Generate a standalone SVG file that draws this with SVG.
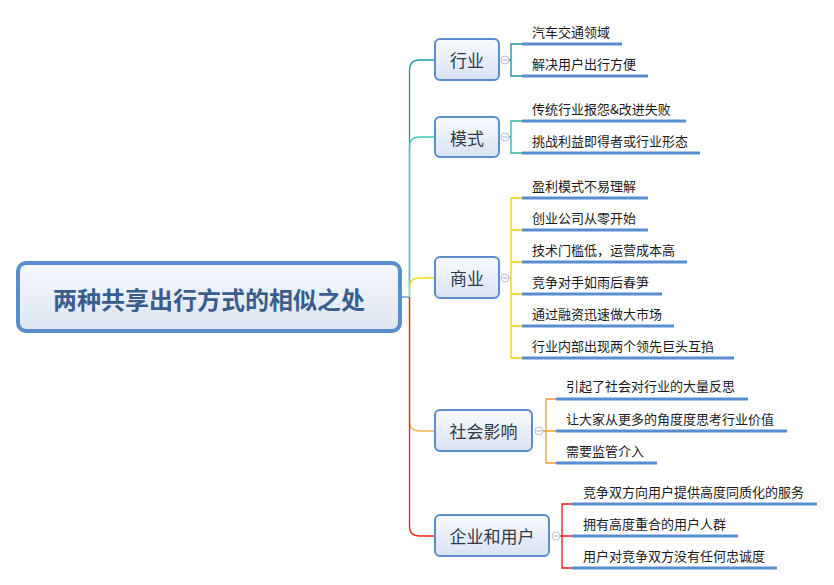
<svg xmlns="http://www.w3.org/2000/svg" width="834" height="585" viewBox="0 0 834 585">
<defs>
<linearGradient id="gRoot" x1="0" y1="0" x2="0" y2="1"><stop offset="0" stop-color="#f6f8fc"/><stop offset="1" stop-color="#dde5f1"/></linearGradient>
<linearGradient id="gBr" x1="0" y1="0" x2="0" y2="1"><stop offset="0" stop-color="#f8fafd"/><stop offset="1" stop-color="#d9e3f2"/></linearGradient>
</defs>
<style>
.root{fill:url(#gRoot);stroke:#5a8dd0;stroke-width:4}
.br{fill:url(#gBr);stroke:#5a8dd0;stroke-width:2}
.rt{font-family:"Noto Sans CJK SC","Liberation Sans",sans-serif;font-size:24px;font-weight:bold;fill:#3a5d8e;text-anchor:middle;dominant-baseline:central}
.bt{font-family:"Noto Sans CJK SC","Liberation Sans",sans-serif;font-size:17px;fill:#2e3a4a;text-anchor:middle;dominant-baseline:central}
.st{font-family:"Noto Sans CJK SC","Liberation Sans",sans-serif;font-size:13px;fill:#1a1a1a;dominant-baseline:central}
.ul{stroke:#5a8dd0;stroke-width:3;fill:none}
.c{fill:none;stroke-width:1.3}
.col{fill:#fff;stroke:#b3c2e2;stroke-width:1}
.minus{stroke:#9fb0d6;stroke-width:1}
</style>
<g id="connectors">
<path class="c" stroke="#5a8dd0" d="M400,297 H410"/>
<path class="c" stroke="#1a9aa2" d="M409.5,297 V70 Q409.5,60 419.5,60 H435"/>
<path class="c" stroke="#3cc8b8" d="M409.5,297 V147 Q409.5,137 419.5,137 H435"/>
<path class="c" stroke="#f2dc10" d="M409.5,297 V288 Q409.5,278 419.5,278 H435"/>
<path class="c" stroke="#f8b050" d="M409.5,297 V421 Q409.5,431 419.5,431 H435"/>
<path class="c" stroke="#f02010" d="M409.5,297 V526 Q409.5,536 419.5,536 H435"/>
<path class="c" stroke="#1a8a96" d="M509,60 H511 M522,44 H511 V76 H522"/>
<path class="c" stroke="#2fb0a0" d="M509,137 H511 M522,121 H511 V153 H522"/>
<path class="c" stroke="#f2d000" d="M509,278 H511 M522,198 H511 V358 H522 M511,230 H522 M511,262 H522 M511,294 H522 M511,326 H522"/>
<path class="c" stroke="#f09a30" d="M543,431 H556 M556,399 H546 V463 H556"/>
<path class="c" stroke="#e81a10" d="M560,536 H572 M572,504 H562 V568 H572"/>
</g>
<g id="root">
<rect class="root" x="18" y="263" width="382" height="68" rx="8"/>
<text class="rt" x="209" y="298">两种共享出行方式的相似之处</text>
</g>
<g id="n-hangye">
<rect class="br" x="435" y="39" width="64" height="41" rx="5"/>
<text class="bt" x="467" y="59.5">行业</text>
<circle class="col" cx="505" cy="60" r="4"/><path class="minus" d="M502.5,60 H507.5"/>
</g>
<g id="n-moshi">
<rect class="br" x="435" y="117" width="64" height="40" rx="5"/>
<text class="bt" x="467" y="137">模式</text>
<circle class="col" cx="505" cy="137" r="4"/><path class="minus" d="M502.5,137 H507.5"/>
</g>
<g id="n-shangye">
<rect class="br" x="435" y="257" width="64" height="41" rx="5"/>
<text class="bt" x="467" y="277.5">商业</text>
<circle class="col" cx="505" cy="278" r="4"/><path class="minus" d="M502.5,278 H507.5"/>
</g>
<g id="n-shehui">
<rect class="br" x="435" y="410" width="97" height="41" rx="5"/>
<text class="bt" x="483.5" y="430.5">社会影响</text>
<circle class="col" cx="539" cy="431" r="4"/><path class="minus" d="M536.5,431 H541.5"/>
</g>
<g id="n-qiye">
<rect class="br" x="435" y="515" width="114" height="41" rx="5"/>
<text class="bt" x="492" y="535.5">企业和用户</text>
<circle class="col" cx="556" cy="536" r="4"/><path class="minus" d="M553.5,536 H558.5"/>
</g>
<g id="subs-hangye">
<text class="st" x="532" y="31">汽车交通领域</text><path class="ul" d="M522,44 H622"/>
<text class="st" x="532" y="63">解决用户出行方便</text><path class="ul" d="M522,76 H648"/>
</g>
<g id="subs-moshi">
<text class="st" x="532" y="108">传统行业报怨&amp;改进失败</text><path class="ul" d="M522,121 H686"/>
<text class="st" x="532" y="140">挑战利益即得者或行业形态</text><path class="ul" d="M522,153 H700"/>
</g>
<g id="subs-shangye">
<text class="st" x="532" y="185">盈利模式不易理解</text><path class="ul" d="M522,198 H648"/>
<text class="st" x="532" y="217">创业公司从零开始</text><path class="ul" d="M522,230 H648"/>
<text class="st" x="532" y="249">技术门槛低，运营成本高</text><path class="ul" d="M522,262 H687"/>
<text class="st" x="532" y="281">竞争对手如雨后春笋</text><path class="ul" d="M522,294 H662"/>
<text class="st" x="532" y="313">通过融资迅速做大市场</text><path class="ul" d="M522,326 H674"/>
<text class="st" x="532" y="345">行业内部出现两个领先巨头互掐</text><path class="ul" d="M522,358 H734"/>
</g>
<g id="subs-shehui">
<text class="st" x="566" y="385">引起了社会对行业的大量反思</text><path class="ul" d="M556,399 H748"/>
<text class="st" x="566" y="418">让大家从更多的角度度思考行业价值</text><path class="ul" d="M556,431 H787"/>
<text class="st" x="566" y="450">需要监管介入</text><path class="ul" d="M556,463 H657"/>
</g>
<g id="subs-qiye">
<text class="st" x="583" y="491">竞争双方向用户提供高度同质化的服务</text><path class="ul" d="M572,504 H817"/>
<text class="st" x="583" y="523">拥有高度重合的用户人群</text><path class="ul" d="M572,536 H738"/>
<text class="st" x="583" y="555">用户对竞争双方没有任何忠诚度</text><path class="ul" d="M572,568 H777"/>
</g>
</svg>
